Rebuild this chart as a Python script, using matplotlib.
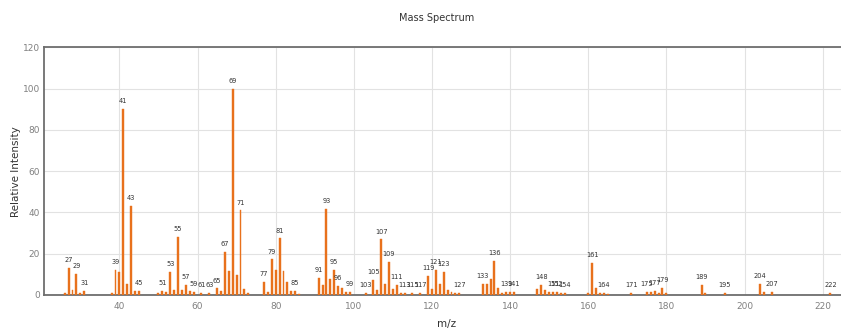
import matplotlib
matplotlib.use("Agg")
import matplotlib.pyplot as plt

mz = [26, 27, 28, 29, 30, 31, 38, 39, 40, 41, 42, 43, 44, 45, 50, 51, 52, 53, 54, 55,
      56, 57, 58, 59, 61, 63, 65, 66, 67, 68, 69, 70, 71, 72, 73, 77, 78, 79, 80, 81,
      82, 83, 84, 85, 86, 91, 92, 93, 94, 95, 96, 97, 98, 99, 103, 105, 106, 107, 108, 109,
      110, 111, 112, 113, 115, 117, 119, 120, 121, 122, 123, 124, 125, 126, 127, 133, 134, 135, 136, 137,
      138, 139, 140, 141, 147, 148, 149, 150, 151, 152, 153, 154, 160, 161, 162, 163, 164, 165, 171, 175,
      176, 177, 178, 179, 180, 189, 190, 195, 204, 205, 207, 222]
intensity = [1.2, 13.3, 2.4, 10, 0.8, 2, 0.8, 12, 11.2, 90, 5.2, 43, 2.1, 2.1, 0.9, 1.8, 1.3, 11.2, 2.3, 28,
             2.4, 5, 1.8, 1.5, 0.8, 0.8, 3.2, 1.8, 21, 11.5, 100, 9.9, 41, 3, 1, 6.5, 1.5, 17.2, 12.1, 27.4,
             11.8, 6.5, 1.8, 2, 0.7, 8.1, 4.7, 41.5, 7.6, 12.3, 4.4, 3.4, 1.3, 1.3, 1, 7.3, 2.3, 26.9, 5.2, 16,
             3, 4.9, 1, 1, 0.8, 0.8, 9.1, 3, 12, 5.2, 11.3, 2.4, 1.6, 1, 1, 5.2, 5.2, 7.9, 16.5, 3.2,
             1, 1.3, 1.3, 1.3, 3, 4.7, 2.2, 1.3, 1.3, 1.3, 1, 1, 1, 15.5, 3.2, 1, 1, 0.7, 0.8, 1.5,
             1.5, 2, 0.8, 3.4, 1, 4.9, 1, 0.8, 5.2, 1.3, 1.3, 0.8]
labeled = [27, 29, 31, 39, 41, 43, 45, 51, 53, 55, 57, 59, 61, 63, 65, 67, 69, 71, 77, 79,
           81, 85, 91, 93, 95, 96, 99, 103, 105, 107, 109, 111, 113, 115, 117, 119, 121, 123, 127, 133,
           136, 139, 141, 148, 151, 152, 154, 161, 164, 171, 175, 177, 179, 189, 195, 204, 207, 222]

W, H = 841, 329
fig = plt.figure(figsize=(W / 100, H / 100), dpi=100)
ax = fig.add_axes([44 / W, 34 / H, (850 - 44) / W, (295 - 47.3) / H])

ax.bar(mz, intensity, width=0.5, color="#e8711c", edgecolor="#e8711c", linewidth=0.3, zorder=3)
lookup = dict(zip(mz, intensity))
for m in labeled:
    ax.annotate(str(m), (m, lookup[m]), xytext=(0, 3.5), textcoords="offset points",
                ha="center", va="bottom", fontsize=4.8, color="#333333", zorder=4)

ax.set_xlim(20.7, 227)
ax.set_ylim(0, 120)
ax.set_xticks(range(40, 221, 20))
ax.set_yticks(range(0, 121, 20))
ax.grid(True, color="#e2e2e2", linewidth=0.8, zorder=0)
ax.tick_params(length=0, labelsize=6.5, labelcolor="#808080")
ax.tick_params(axis="y", pad=3)
ax.tick_params(axis="x", pad=5)
for s in ax.spines.values():
    s.set_color("#6e6e6e")
    s.set_linewidth(1.3)

ax.set_xlabel("m/z", fontsize=7.5, color="#333333", labelpad=6)
ax.set_ylabel("Relative Intensity", fontsize=7.5, color="#333333", labelpad=1)
fig.text(437 / W, 1 - 18 / H, "Mass Spectrum", ha="center", va="center", fontsize=7, color="#333333")

fig.savefig("out.png", dpi=100)
